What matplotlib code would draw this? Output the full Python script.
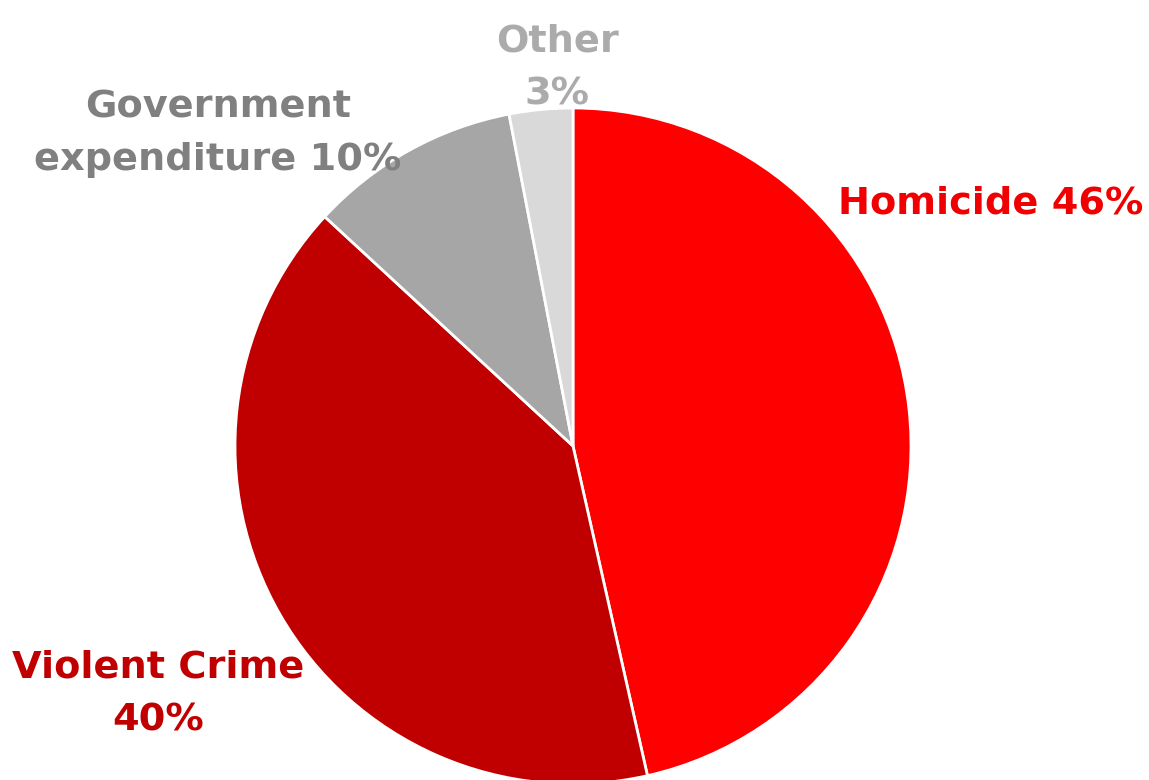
import matplotlib
matplotlib.use("Agg")
import matplotlib.pyplot as plt

# slice data, clockwise from 12 o'clock
categories = ["Homicide", "Violent Crime", "Government expenditure", "Other"]
shares = [46, 40, 10, 3]
slice_colors = ["#FF0000", "#C00000", "#A6A6A6", "#D9D9D9"]

label_texts = ["Homicide 46%", "Violent Crime\n40%", "Government\nexpenditure 10%", "Other\n3%"]
label_colors = ["#F00000", "#C00000", "#808080", "#ABABAB"]

W, H = 1149, 780
fig = plt.figure(figsize=(W / 100, H / 100), dpi=100)
ax = fig.add_axes([0, 0, 1, 1])

# work in pixel coordinates, y measured upward
cx, cy, r = 573, H - 446, 338
ax.pie(shares, colors=slice_colors, startangle=90, counterclock=False,
       center=(cx, cy), radius=r,
       wedgeprops=dict(edgecolor="white", linewidth=2))

ax.set_xlim(0, W)
ax.set_ylim(0, H)
ax.set_aspect("equal")
ax.axis("off")

font = dict(family="DejaVu Sans", fontweight="bold", fontsize=27.5, linespacing=1.6)

ax.text(838, H - 203, label_texts[0], color=label_colors[0], ha="left", va="center", **font)
ax.text(158, H - 694, label_texts[1], color=label_colors[1], ha="center", va="center", **font)
ax.text(218, H - 134, label_texts[2], color=label_colors[2], ha="center", va="center", **font)
ax.text(557, H - 68, label_texts[3], color=label_colors[3], ha="center", va="center", **font)

fig.savefig("out.png", dpi=100, facecolor="white")
